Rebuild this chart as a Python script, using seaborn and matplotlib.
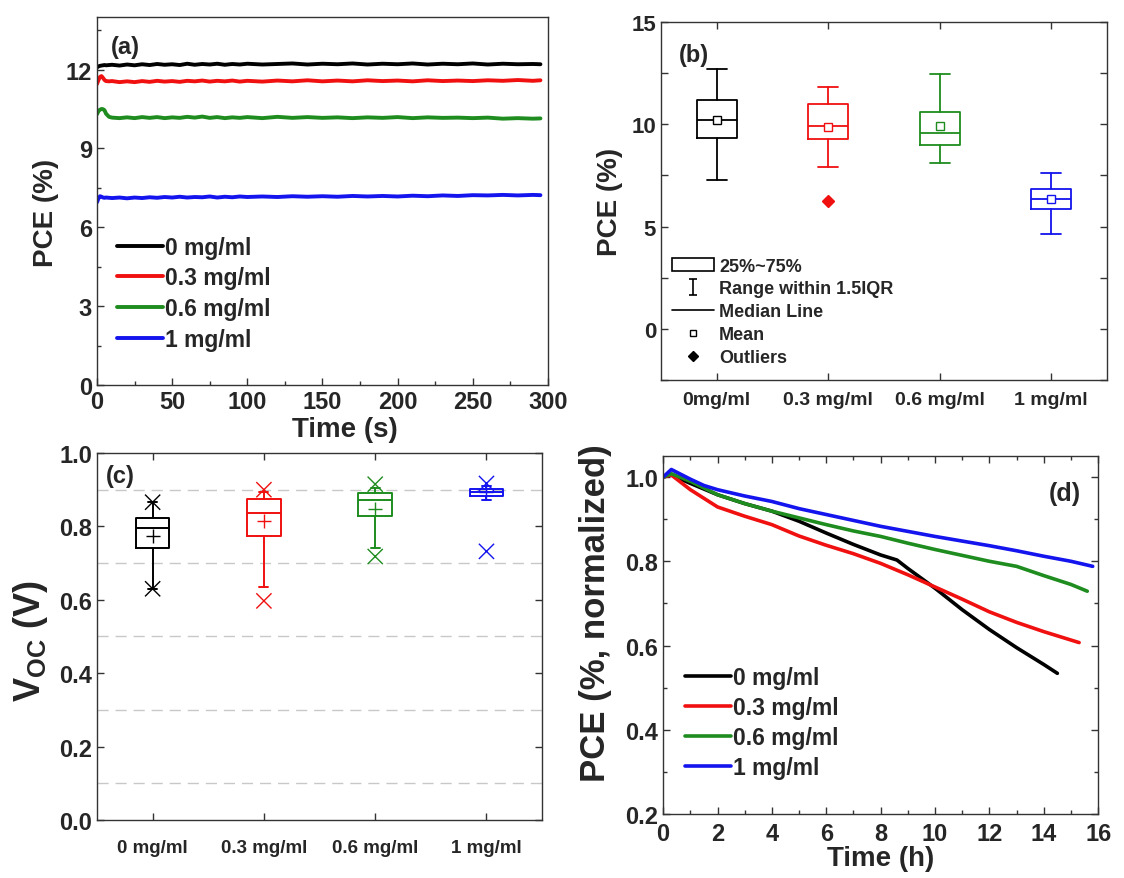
import matplotlib
matplotlib.use("Agg")
import matplotlib.pyplot as plt
import seaborn as sns
from matplotlib.lines import Line2D
from matplotlib.patches import Patch
from matplotlib.path import Path
from matplotlib.ticker import MultipleLocator, FixedLocator

# ---- data ----
conc_labels = ['0 mg/ml', '0.3 mg/ml', '0.6 mg/ml', '1 mg/ml']
colors = ['#000000', '#f01010', '#1e8c1e', '#1414ee']

# (a) PCE vs time (s)
t_a = [0, 1, 2, 3, 4, 5, 6, 8, 10, 15, 20, 25, 30, 35, 40, 45, 50, 55, 60, 65, 70,
       75, 80, 85, 90, 95, 100, 110, 120, 130, 140, 150, 160, 170, 180, 190, 200,
       210, 220, 230, 240, 250, 260, 270, 280, 290, 295]
pce_a_0 = [12.08, 12.12, 12.14, 12.15, 12.16, 12.17, 12.16, 12.17, 12.18, 12.15,
           12.19, 12.16, 12.20, 12.17, 12.21, 12.18, 12.20, 12.17, 12.22, 12.18,
           12.21, 12.19, 12.22, 12.18, 12.21, 12.19, 12.22, 12.19, 12.21, 12.23,
           12.19, 12.22, 12.20, 12.23, 12.19, 12.22, 12.20, 12.23, 12.19, 12.22,
           12.20, 12.23, 12.19, 12.22, 12.20, 12.21, 12.20]
pce_a_03 = [11.45, 11.60, 11.72, 11.75, 11.68, 11.60, 11.56, 11.55, 11.56, 11.52,
            11.55, 11.52, 11.56, 11.53, 11.57, 11.54, 11.56, 11.53, 11.57, 11.55,
            11.58, 11.54, 11.57, 11.55, 11.58, 11.54, 11.57, 11.54, 11.58, 11.55,
            11.59, 11.55, 11.58, 11.55, 11.59, 11.56, 11.58, 11.55, 11.59, 11.56,
            11.58, 11.56, 11.59, 11.57, 11.60, 11.57, 11.59]
pce_a_06 = [10.30, 10.42, 10.47, 10.50, 10.49, 10.45, 10.32, 10.20, 10.17, 10.15,
            10.18, 10.15, 10.19, 10.16, 10.19, 10.15, 10.18, 10.16, 10.20, 10.17,
            10.21, 10.16, 10.19, 10.15, 10.18, 10.16, 10.19, 10.15, 10.20, 10.16,
            10.19, 10.16, 10.18, 10.15, 10.18, 10.16, 10.19, 10.15, 10.18, 10.16,
            10.17, 10.15, 10.17, 10.13, 10.15, 10.13, 10.14]
pce_a_1 = [6.95, 7.10, 7.18, 7.16, 7.13, 7.12, 7.13, 7.12, 7.11, 7.13,
           7.10, 7.13, 7.11, 7.14, 7.12, 7.15, 7.13, 7.16, 7.13, 7.15,
           7.14, 7.17, 7.13, 7.16, 7.14, 7.17, 7.15, 7.17, 7.15, 7.18,
           7.16, 7.18, 7.16, 7.19, 7.17, 7.19, 7.17, 7.20, 7.18, 7.21,
           7.19, 7.22, 7.21, 7.23, 7.21, 7.23, 7.22]

# (b) PCE box statistics
b_ticklabels = ['0mg/ml', '0.3 mg/ml', '0.6 mg/ml', '1 mg/ml']
b_whislo = [7.25, 7.9, 8.1, 4.62]
b_q1 = [9.35, 9.3, 8.98, 5.85]
b_med = [10.2, 9.9, 9.55, 6.34]
b_q3 = [11.2, 11.0, 10.6, 6.83]
b_whishi = [12.7, 11.8, 12.45, 7.6]
b_mean = [10.2, 9.85, 9.9, 6.34]
b_outliers = [[], [6.27], [], []]

# (c) Voc box statistics
c_whislo = [0.630, 0.636, 0.741, 0.873]
c_q1 = [0.741, 0.775, 0.827, 0.884]
c_med = [0.795, 0.836, 0.873, 0.895]
c_q3 = [0.824, 0.875, 0.890, 0.902]
c_whishi = [0.866, 0.895, 0.905, 0.910]
c_mean = [0.775, 0.815, 0.847, 0.893]
c_max = [0.866, 0.900, 0.915, 0.917]
c_min = [0.630, 0.597, 0.718, 0.732]

# (d) normalized PCE vs time (h)
t_d_0 = [0, 0.3, 1, 2, 3, 4, 5, 6, 7, 8, 8.6, 9, 10, 11, 12, 13, 14, 14.5]
pce_d_0 = [1.0, 1.005, 0.985, 0.958, 0.937, 0.919, 0.895, 0.867, 0.840, 0.815,
           0.803, 0.783, 0.736, 0.685, 0.638, 0.595, 0.555, 0.534]
t_d_03 = [0, 0.3, 1, 2, 3, 4, 5, 6, 7, 8, 9, 10, 11, 12, 13, 14, 15, 15.3]
pce_d_03 = [1.0, 1.005, 0.970, 0.929, 0.907, 0.887, 0.860, 0.838, 0.818, 0.795,
            0.768, 0.739, 0.710, 0.680, 0.655, 0.633, 0.613, 0.607]
t_d_06 = [0, 0.3, 1, 2, 3, 4, 5, 6, 7, 8, 9, 10, 11, 12, 13, 14, 15, 15.6]
pce_d_06 = [1.0, 1.008, 0.990, 0.958, 0.937, 0.919, 0.903, 0.887, 0.872, 0.859,
            0.843, 0.828, 0.814, 0.800, 0.788, 0.766, 0.745, 0.729]
t_d_1 = [0, 0.3, 1, 1.5, 2, 3, 4, 5, 6, 7, 8, 9, 10, 11, 12, 13, 14, 15, 15.8]
pce_d_1 = [1.0, 1.018, 0.995, 0.980, 0.970, 0.955, 0.942, 0.925, 0.911, 0.897,
           0.883, 0.871, 0.859, 0.848, 0.837, 0.825, 0.812, 0.800, 0.788]

# ---- style ----
sns.set_theme(style="ticks")
plt.rcParams['font.family'] = ['Liberation Sans', 'DejaVu Sans']
plt.rcParams['font.weight'] = 'bold'
plt.rcParams['axes.labelweight'] = 'bold'
plt.rcParams['mathtext.fontset'] = 'custom'
plt.rcParams['mathtext.rm'] = 'Liberation Sans:bold'
plt.rcParams['mathtext.bf'] = 'Liberation Sans:bold'
plt.rcParams['xtick.direction'] = 'in'
plt.rcParams['ytick.direction'] = 'in'
plt.rcParams['axes.edgecolor'] = '#333333'
plt.rcParams['axes.linewidth'] = 1.0

fig = plt.figure(figsize=(11.24, 8.79), dpi=100)
ax_a = fig.add_axes([0.0863, 0.5609, 0.4012, 0.4187])
ax_b = fig.add_axes([0.588, 0.5666, 0.3968, 0.4073])
ax_c = fig.add_axes([0.0863, 0.066, 0.396, 0.4175])
ax_d = fig.add_axes([0.590, 0.0728, 0.387, 0.4073])

def style_ticks(ax, size, mirror=False):
    ax.tick_params(which='major', length=5, width=1, labelsize=size,
                   top=mirror, right=mirror, color='#333333')
    ax.tick_params(which='minor', length=3, width=1, top=mirror, right=mirror,
                   color='#333333')
    for lab in ax.get_xticklabels() + ax.get_yticklabels():
        lab.set_fontweight('bold')

# ---- (a) ----
for y, c, lab in zip([pce_a_0, pce_a_03, pce_a_06, pce_a_1], colors, conc_labels):
    sns.lineplot(x=t_a, y=y, ax=ax_a, color=c, lw=2.8, label=lab)
ax_a.set_xlim(0, 300)
ax_a.set_ylim(0, 14)
ax_a.xaxis.set_major_locator(MultipleLocator(50))
ax_a.xaxis.set_minor_locator(MultipleLocator(25))
ax_a.yaxis.set_major_locator(MultipleLocator(3))
ax_a.yaxis.set_minor_locator(MultipleLocator(1.5))
style_ticks(ax_a, 17)
ax_a.set_xlabel('Time (s)', fontsize=20)
ax_a.xaxis.set_label_coords(0.55, -0.085)
ax_a.set_ylabel('PCE (%)', fontsize=20)
ax_a.yaxis.set_label_coords(-0.085, 0.47)
ax_a.text(0.03, 0.95, '(a)', transform=ax_a.transAxes, fontsize=17,
          fontweight='bold', va='top')
ax_a.legend(loc='upper left', bbox_to_anchor=(0.045, 0.405), frameon=False,
            fontsize=16.5, handlelength=2.0, handletextpad=0.1, labelspacing=0.33,
            borderpad=0, borderaxespad=0)

# ---- (b) ----
stats_b = [dict(med=b_med[i], q1=b_q1[i], q3=b_q3[i], whislo=b_whislo[i],
                whishi=b_whishi[i], mean=b_mean[i], fliers=b_outliers[i])
           for i in range(4)]
bp = ax_b.bxp(stats_b, positions=range(4), widths=0.36, showmeans=True,
              showfliers=True, capwidths=0.18, patch_artist=False)
for i, c in enumerate(colors):
    bp['boxes'][i].set(color=c, lw=1.3)
    bp['medians'][i].set(color=c, lw=1.3)
    for art in bp['whiskers'][2 * i:2 * i + 2] + bp['caps'][2 * i:2 * i + 2]:
        art.set(color=c, lw=1.3)
    bp['means'][i].set(marker='s', markerfacecolor='white', markeredgecolor=c,
                       markersize=6, markeredgewidth=1)
    bp['fliers'][i].set(marker='D', markerfacecolor=c, markeredgecolor=c,
                        markersize=6)
ax_b.set_xlim(-0.5, 3.5)
ax_b.set_ylim(-2.5, 15)
ax_b.set_xticks(range(4))
ax_b.set_xticklabels(b_ticklabels)
ax_b.yaxis.set_major_locator(MultipleLocator(5))
ax_b.yaxis.set_minor_locator(MultipleLocator(2.5))
style_ticks(ax_b, 16, mirror=True)
ax_b.tick_params(axis='x', labelsize=14, pad=8)
ax_b.tick_params(axis='y', which='minor', length=5)
ax_b.set_ylabel('PCE (%)', fontsize=20, labelpad=6)
ax_b.text(0.04, 0.94, '(b)', transform=ax_b.transAxes, fontsize=17,
          fontweight='bold', va='top')
ibeam = Path([(-0.5, -1), (0.5, -1), (0, -1), (0, 1), (-0.5, 1), (0.5, 1)],
             [Path.MOVETO, Path.LINETO, Path.MOVETO, Path.LINETO, Path.MOVETO, Path.LINETO])
handles_b = [
    Patch(facecolor='white', edgecolor='black', lw=1.2),
    Line2D([], [], marker=ibeam, color='black', ls='none', markersize=12, mew=1.2),
    Line2D([], [], color='black', lw=1.2),
    Line2D([], [], marker='s', markerfacecolor='white', markeredgecolor='black',
           ls='none', markersize=5),
    Line2D([], [], marker='D', color='black', ls='none', markersize=5),
]
labels_b = ['25%~75%', 'Range within 1.5IQR', 'Median Line', 'Mean', 'Outliers']
ax_b.legend(handles_b, labels_b, loc='upper left', bbox_to_anchor=(0.025, 0.342),
            frameon=False, fontsize=13, handlelength=2.3, handletextpad=0.3,
            labelspacing=0.33, borderpad=0, borderaxespad=0)

# ---- (c) ----
stats_c = [dict(med=c_med[i], q1=c_q1[i], q3=c_q3[i], whislo=c_whislo[i],
                whishi=c_whishi[i], mean=c_mean[i], fliers=[])
           for i in range(4)]
cp = ax_c.bxp(stats_c, positions=range(4), widths=0.3, showmeans=True,
              showfliers=False, capwidths=0.08)
for i, c in enumerate(colors):
    cp['boxes'][i].set(color=c, lw=1.4)
    cp['medians'][i].set(color=c, lw=1.4)
    for art in cp['whiskers'][2 * i:2 * i + 2] + cp['caps'][2 * i:2 * i + 2]:
        art.set(color=c, lw=1.4)
    cp['means'][i].set(marker='+', markerfacecolor=c, markeredgecolor=c,
                       markersize=10, markeredgewidth=1)
ax_c.scatter(range(4), c_max, marker='x', c=colors, s=120, linewidths=1, zorder=3)
ax_c.scatter(range(4), c_min, marker='x', c=colors, s=120, linewidths=1, zorder=3)
ax_c.set_xlim(-0.5, 3.5)
ax_c.set_ylim(0, 1.0)
ax_c.set_xticks(range(4))
ax_c.set_xticklabels(conc_labels)
ax_c.yaxis.set_major_locator(MultipleLocator(0.2))
ax_c.yaxis.set_minor_locator(FixedLocator([0.1, 0.3, 0.5, 0.7, 0.9]))
ax_c.grid(which='minor', axis='y', color='#c8c8c8', lw=1, ls=(0, (8, 5)))
style_ticks(ax_c, 17, mirror=True)
ax_c.tick_params(axis='x', labelsize=13.5, pad=14)
ax_c.tick_params(which='minor', length=0)
ax_c.set_ylabel(r'$\mathbf{V_{OC}}$ (V)', fontsize=26)
ax_c.yaxis.set_label_coords(-0.105, 0.49)
ax_c.text(0.02, 0.97, '(c)', transform=ax_c.transAxes, fontsize=17,
          fontweight='bold', va='top')

# ---- (d) ----
for t, y, c, lab in zip([t_d_0, t_d_03, t_d_06, t_d_1],
                        [pce_d_0, pce_d_03, pce_d_06, pce_d_1], colors, conc_labels):
    sns.lineplot(x=t, y=y, ax=ax_d, color=c, lw=2.6, label=lab)
ax_d.set_xlim(0, 16)
ax_d.set_ylim(0.2, 1.05)
ax_d.xaxis.set_major_locator(MultipleLocator(2))
ax_d.xaxis.set_minor_locator(MultipleLocator(1))
ax_d.yaxis.set_major_locator(MultipleLocator(0.2))
ax_d.yaxis.set_minor_locator(MultipleLocator(0.1))
style_ticks(ax_d, 17, mirror=True)
ax_d.tick_params(axis='x', pad=6)
ax_d.set_xlabel('Time (h)', fontsize=20, labelpad=0)
ax_d.set_ylabel('PCE (%, normalized)', fontsize=25)
ax_d.yaxis.set_label_coords(-0.117, 0.565)
ax_d.text(0.96, 0.93, '(d)', transform=ax_d.transAxes, fontsize=18,
          fontweight='bold', va='top', ha='right')
ax_d.legend(loc='upper left', bbox_to_anchor=(0.05, 0.413), frameon=False,
            fontsize=16.5, handlelength=2.0, handletextpad=0.1, labelspacing=0.3,
            borderpad=0, borderaxespad=0)

fig.savefig('out.png', dpi=100)
